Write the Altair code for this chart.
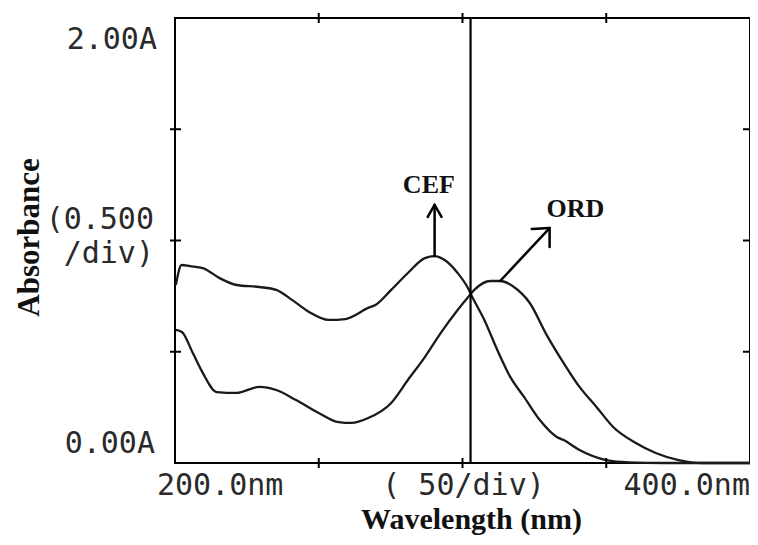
import altair as alt
import pandas as pd

# ---- data ----
wl_cef = [200.3, 202.3, 205.2, 209.7, 215.5, 221.4, 229.3, 235.2, 240.7, 246.6, 253.4, 259.3,
          267.2, 269.7, 275.2, 281.0, 286.9, 290.3, 293.8, 298.3, 301.7, 303.4, 307.6, 312.1,
          316.6, 321.4, 326.9, 332.8, 335.2, 340.7, 350.0, 357.9, 370.0, 400.0]
abs_cef = [0.80, 0.89, 0.885, 0.876, 0.831, 0.800, 0.791, 0.778, 0.733, 0.679, 0.643, 0.647,
           0.697, 0.710, 0.778, 0.854, 0.921, 0.930, 0.912, 0.854, 0.791, 0.746, 0.643, 0.508,
           0.387, 0.297, 0.193, 0.117, 0.103, 0.058, 0.013, 0.003, 0.0, 0.0]

wl_ord = [200.3, 202.4, 206.2, 209.7, 214.5, 221.4, 229.3, 235.2, 242.1, 250.0, 256.9, 261.4,
          267.2, 275.2, 281.0, 286.9, 292.4, 298.3, 301.7, 304.1, 309.7, 313.1, 317.9, 323.4,
          329.3, 335.2, 340.7, 346.6, 352.4, 360.3, 367.2, 375.2, 383.4, 400.0]
abs_ord = [0.598, 0.589, 0.494, 0.404, 0.319, 0.315, 0.342, 0.328, 0.283, 0.225, 0.184, 0.180,
           0.202, 0.270, 0.373, 0.476, 0.584, 0.688, 0.742, 0.778, 0.818, 0.818, 0.791, 0.719,
           0.575, 0.449, 0.342, 0.252, 0.162, 0.090, 0.045, 0.013, 0.0, 0.0]

marker_wl = [302.8]
tick_wl = [250, 300, 350]
tick_abs = [0.5, 1.0, 1.5]

# arrow segments (data coordinates): x, y, x2, y2
arrow_x = [290.3, 290.3, 290.3, 313.1, 330.3, 330.3]
arrow_y = [0.93, 1.160, 1.160, 0.818, 1.056, 1.056]
arrow_x2 = [290.3, 287.9, 292.7, 330.3, 324.1, 330.3]
arrow_y2 = [1.160, 1.106, 1.106, 1.056, 1.052, 0.971]

series_names = ["CEF", "ORD"]
series_label_x = [288.3, 339.3]
series_label_y = [1.249, 1.142]

# ---- build tables ----
curves = pd.concat([
    pd.DataFrame({"wl": wl_cef, "A": abs_cef, "s": "CEF"}),
    pd.DataFrame({"wl": wl_ord, "A": abs_ord, "s": "ORD"}),
])
arrows = pd.DataFrame({"wl": arrow_x, "A": arrow_y, "wl2": arrow_x2, "A2": arrow_y2})
names = pd.DataFrame({"wl": series_label_x, "A": series_label_y, "t": series_names})

W, H = 575, 445

x_scale = alt.Scale(domain=[200, 400], nice=False, zero=False)
y_scale = alt.Scale(domain=[0, 2], nice=False, zero=False)

x_axis = alt.Axis(title="Wavelength (nm)", labels=False, ticks=False, domain=False, grid=False,
                  titleFont="Liberation Serif", titleFontSize=30, titleFontWeight="bold",
                  titleColor="#111111", titleX=296, titleY=65, titleAlign="center",
                  titleBaseline="alphabetic")
y_axis = alt.Axis(title="Absorbance", labels=False, ticks=False, domain=False, grid=False,
                  titleFont="Liberation Serif", titleFontSize=31, titleFontWeight="bold",
                  titleColor="#111111", titleAngle=270, titleX=-146, titleY=219,
                  titleAlign="center", titleBaseline="middle")

X = alt.X("wl:Q", scale=x_scale, axis=x_axis)
Y = alt.Y("A:Q", scale=y_scale, axis=y_axis)

lines = alt.Chart(curves).mark_line(color="#1a1a1a", strokeWidth=2.3, interpolate="monotone").encode(
    x=X, y=Y, detail="s:N")

marker = alt.Chart(pd.DataFrame({"wl": marker_wl})).mark_rule(color="black", strokeWidth=2.2).encode(
    x=X, y=alt.value(0), y2=alt.value(H))

arrow_layer = alt.Chart(arrows).mark_rule(color="black", strokeWidth=2.5, strokeCap="round").encode(
    x=X, y=Y, x2="wl2:Q", y2="A2:Q")

name_layer = alt.Chart(names).mark_text(font="Liberation Serif", fontSize=26, fontWeight="bold",
                                        color="#111111", align="center", baseline="middle").encode(
    x=X, y=Y, text="t:N")

tx = pd.DataFrame({"wl": tick_wl})
ty = pd.DataFrame({"A": tick_abs})
tick_bottom = alt.Chart(tx).mark_rule(color="black", strokeWidth=2).encode(
    x=X, y=alt.value(H - 5), y2=alt.value(H + 5))
tick_top = alt.Chart(tx).mark_rule(color="black", strokeWidth=2).encode(
    x=X, y=alt.value(-5), y2=alt.value(5))
tick_left = alt.Chart(ty).mark_rule(color="black", strokeWidth=2).encode(
    y=Y, x=alt.value(-5), x2=alt.value(6))
tick_right = alt.Chart(ty).mark_rule(color="black", strokeWidth=2).encode(
    y=Y, x=alt.value(W - 7), x2=alt.value(W))

MONO = "DejaVu Sans Mono"


def mono_label(text, xv, yv, align, dx, dy):
    df = pd.DataFrame({"wl": [xv], "A": [yv], "t": [text]})
    return alt.Chart(df).mark_text(font=MONO, fontSize=30, color="#2a2a2a", align=align,
                                   baseline="middle", dx=dx, dy=dy).encode(x=X, y=Y, text="t:N")


labels = [
    mono_label("2.00A", 200, 2.0, "right", -18, 22),
    mono_label("(0.500", 200, 1.0, "right", -21, -21),
    mono_label("/div)", 200, 1.0, "right", -21, 13),
    mono_label("0.00A", 200, 0.0, "right", -20, -19),
    mono_label("200.0nm", 200, 0.0, "left", -18, 23),
    mono_label("( 50/div)", 300, 0.0, "center", 1, 23),
    mono_label("400.0nm", 400, 0.0, "right", 0, 23),
]

chart = alt.layer(lines, marker, arrow_layer, name_layer, tick_bottom, tick_top, tick_left,
                  tick_right, *labels).properties(
    width=W, height=H,
    autosize=alt.AutoSizeParams(type="none"),
    padding={"left": 167, "top": 10, "right": 0, "bottom": 74},
    background="white",
).configure_view(stroke="black", strokeWidth=2)

chart.save("out.html", embed_options={"renderer": "svg", "actions": False})
